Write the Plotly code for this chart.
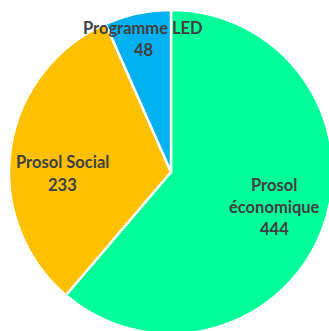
import plotly.graph_objects as go

labels = ["Prosol économique", "Prosol Social", "Programme LED"]
values = [444, 233, 48]
colors = ["#00FF99", "#FFC000", "#00B0F0"]
# label text lines as shown on chart
label_lines = [["Prosol", "économique"], ["Prosol Social"], ["Programme LED"]]

W, H = 334, 335
# pie placement in pixels (left, top, size)
px_left, px_top, px_size = 9, 10, 324

# annotation anchor positions (pixel centers of first line)
label_pos = [(274, 184.5), (63, 162.5), (143, 27.5)]
line_h = 22

fig = go.Figure(go.Pie(
    labels=labels, values=values, sort=False, direction="clockwise", rotation=0,
    marker=dict(colors=colors, line=dict(color="white", width=2.5)),
    textinfo="none", hoverinfo="label+value",
    domain=dict(x=[px_left / W, (px_left + px_size) / W],
                y=[1 - (px_top + px_size) / H, 1 - px_top / H]),
))

for lines, val, (cx, cy) in zip(label_lines, values, label_pos):
    for i, t in enumerate(lines + [str(val)]):
        fig.add_annotation(
            x=cx / W, y=1 - (cy + i * line_h) / H, xref="paper", yref="paper",
            text="<b>%s</b>" % t, showarrow=False, xanchor="center", yanchor="middle",
            font=dict(family="Lato", size=16.5, color="#404040"),
        )

fig.update_layout(width=W, height=H, margin=dict(l=0, r=0, t=0, b=0),
                  showlegend=False, paper_bgcolor="white", plot_bgcolor="white")

fig.write_html("out.html", post_script="document.body.style.overflow='hidden';document.documentElement.style.overflow='hidden';")
